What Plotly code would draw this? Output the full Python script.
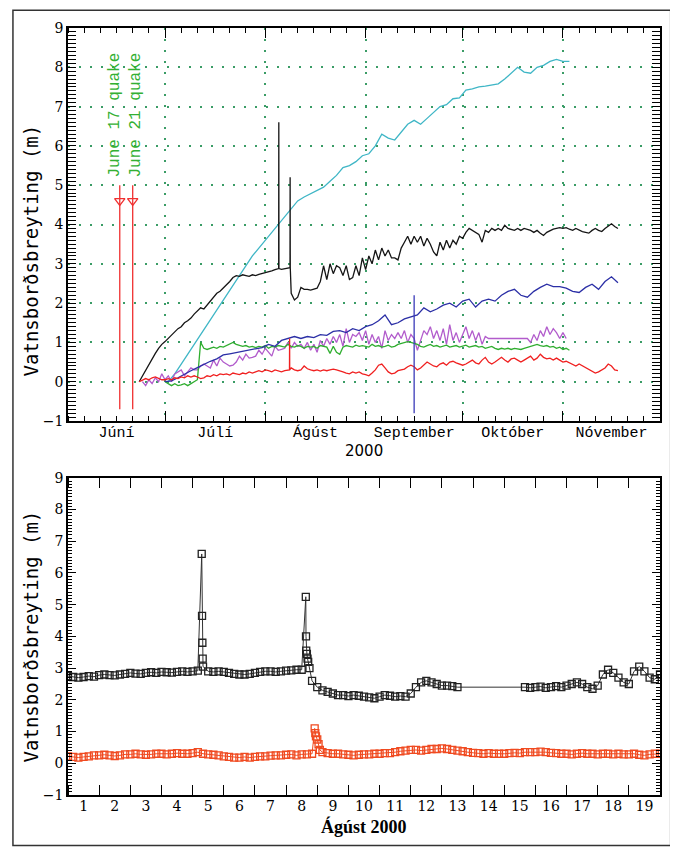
import pandas as pd
import plotly.graph_objects as go

# ---------------- top panel data (daily / 2-daily readings) ----------------
black_start = "2000-06-23"
black_vals = [
    0.0, 0.15, 0.3, 0.45, 0.6, 0.72, 0.85, 0.95,
    1.02, 1.1, 1.18, 1.28, 1.35, 1.4, 1.5, 1.55, 1.62, 1.72, 1.8, 1.88, 1.85, 1.95, 2.05, 2.15,
    2.25, 2.3, 2.38, 2.45, 2.55, 2.65, 2.7, 2.68, 2.72, 2.7, 2.68, 2.72, 2.7, 2.73, 2.75,
    2.78, 2.8, 2.82, 2.85, 2.88, 2.86, 2.88, 2.9, 2.25, 2.08, 2.15, 2.4, 2.35, 2.35, 2.33, 2.35,
    2.38, 2.55, 2.95, 2.6, 3.0, 2.75, 2.95, 2.9, 2.7, 2.95, 2.6, 2.65, 2.95, 2.7, 3.15,
    2.85, 3.2, 3.0, 3.35, 3.1, 3.4, 3.2, 3.35, 3.15, 3.15, 3.1, 3.4, 3.55, 3.7, 3.5, 3.7, 3.55,
    3.7, 3.45, 3.65, 3.5, 3.3, 3.2, 3.55, 3.35, 3.6, 3.4, 3.6, 3.5, 3.7,
    3.65, 3.8, 3.9, 3.85, 3.8, 3.75, 3.55, 3.85, 3.8, 3.9, 3.85, 3.9, 3.85, 3.98, 3.9, 3.88,
    3.85, 3.9, 3.85, 3.9, 3.88, 3.85, 3.8, 3.85, 3.78, 3.72, 3.8, 3.85, 3.88, 3.9, 3.92,
    3.9, 3.92, 3.88, 3.85, 3.9, 3.85, 3.82, 3.8, 3.78, 3.85, 3.9, 3.85, 3.82, 3.9, 3.95, 4.02, 3.95, 3.9,
]
black_spike_dates = ["2000-08-05 03:00", "2000-08-05 04:00", "2000-08-05 05:00",
                     "2000-08-08 15:00", "2000-08-08 16:00", "2000-08-08 17:00"]
black_spike_vals = [2.88, 6.6, 2.88, 2.9, 5.2, 2.9]

cyan_start = "2000-07-02"  # every 2 days
cyan_vals = [
    0.0, 0.2, 0.45, 0.7, 0.95, 1.2, 1.45, 1.7, 1.95, 2.2, 2.45, 2.7, 2.95, 3.2, 3.4,
    3.6, 3.8, 4.0, 4.2, 4.4, 4.6, 4.7, 4.78, 4.88, 4.95, 5.1, 5.25, 5.45, 5.5, 5.6, 5.75,
    5.8, 6.0, 6.3, 6.2, 6.15, 6.35, 6.55, 6.65, 6.55, 6.7, 6.85, 7.0, 7.05, 7.2, 7.22,
    7.42, 7.45, 7.5, 7.52, 7.55, 7.58, 7.7, 7.85, 8.0, 7.88, 7.85, 8.0, 8.05, 8.15, 8.2,
    8.15, 8.15,
]

blue_start = "2000-07-01"  # every 2 days
blue_vals = [
    0.0, 0.02, 0.1, 0.2, 0.28, 0.36, 0.45, 0.52, 0.58, 0.68, 0.71, 0.74, 0.77, 0.8, 0.84, 0.87,
    0.95, 0.9, 1.05, 1.1, 1.15, 1.1, 1.15, 1.12, 1.2, 1.18, 1.28, 1.3, 1.25, 1.35, 1.3,
    1.4, 1.45, 1.55, 1.7, 1.45, 1.5, 1.6, 1.65, 1.7, 1.88, 1.78, 1.85, 1.95, 2.0, 1.9,
    2.05, 2.1, 1.9, 2.05, 2.1, 2.05, 2.2, 2.3, 2.35, 2.2, 2.15, 2.3, 2.4, 2.48, 2.42, 2.42,
    2.38, 2.3, 2.27, 2.4, 2.48, 2.35, 2.55, 2.67, 2.52,
]

purple_start_a = "2000-06-24"
purple_vals_a = [
    0.0, -0.1, 0.05, -0.05, 0.1, 0.0, 0.2,
    0.05, 0.15, 0.0, 0.2, 0.25, 0.3, 0.15, 0.25, 0.35, 0.3, 0.3, 0.4, 0.45, 0.4, 0.35, 0.55,
    0.4, 0.6, 0.5, 0.45, 0.4, 0.42, 0.5, 0.65, 0.55, 0.7, 0.6, 0.62, 0.65, 0.8, 0.7,
    0.85, 0.75, 0.65, 0.9, 0.8, 0.82, 0.85, 1.0, 0.85, 1.0, 0.9, 0.95, 0.85, 1.0, 0.8, 0.95,
    0.75, 1.05, 0.9, 1.1, 0.95, 1.15, 1.0, 1.2, 0.9, 1.35, 1.0, 1.2, 1.15, 1.25, 1.05,
    1.3, 0.95, 1.2, 1.0, 1.15, 0.85, 1.3, 1.05, 1.2, 1.1, 1.25, 1.1, 1.3, 1.0, 1.2,
    1.1, 0.8, 1.05, 1.3, 1.2, 1.4, 1.1, 1.3, 1.05, 1.35, 0.95, 1.45, 1.05, 1.25, 1.0,
    1.2, 1.4, 1.1, 1.3, 1.05, 1.25, 0.95, 1.15, 1.1,
]
purple_start_b = "2000-10-21"
purple_vals_b = [1.1, 1.0, 1.2, 1.05, 1.3, 1.15, 1.4, 1.2, 1.35, 1.25, 1.1, 1.25, 1.1]

green_start = "2000-07-01"
green_vals = [
    0.0, -0.05, -0.1, -0.05, -0.1, -0.08, -0.05, -0.1, -0.05, 0.0, 0.05, 1.0, 0.85, 0.82, 0.85,
    0.88, 0.85, 0.9, 0.88, 0.92, 0.98, 1.0, 0.95, 0.93, 0.9, 0.92, 0.88, 0.9, 0.87, 0.9, 0.88,
    0.92, 0.85, 0.9, 0.88, 0.92, 0.9, 0.88, 0.95, 0.9, 0.88, 0.92, 0.9, 0.85, 0.9, 0.88,
    0.9, 0.85, 0.92, 0.9, 0.88, 0.72, 0.9, 0.75, 0.7, 0.88, 0.92, 0.9, 0.88, 0.93, 0.9, 0.92,
    0.9, 0.88, 0.95, 0.9, 0.92, 0.88, 0.9, 0.93, 0.88, 0.9, 0.95, 0.98, 1.0, 1.02, 1.0,
    0.98, 0.95, 0.9, 0.88, 0.92, 0.95, 0.9, 0.92, 0.88, 0.9, 0.93, 0.88, 0.9, 0.92, 0.88,
    0.9, 0.93, 0.88, 0.9, 0.92, 0.88, 0.9, 0.85, 0.88, 0.9, 0.85, 0.82, 0.85, 0.83, 0.85,
    0.82, 0.85, 0.83, 0.82, 0.85, 0.88, 0.9, 0.93, 0.95, 0.92, 0.9, 0.92, 0.88, 0.9, 0.85, 0.88,
    0.82, 0.85, 0.8,
]

red_start = "2000-06-23"
red_vals = [
    0.0, 0.05, 0.08, 0.05, 0.1, 0.12, 0.08, 0.05,
    0.05, 0.08, 0.05, 0.1, 0.08, 0.12, 0.1, 0.15, 0.12, 0.15, 0.12, 0.08, 0.1, 0.15, 0.13, 0.18,
    0.15, 0.2, 0.18, 0.2, 0.17, 0.22, 0.2, 0.18, 0.22, 0.2, 0.25, 0.22, 0.25, 0.28, 0.25,
    0.3, 0.28, 0.25, 0.3, 0.28, 0.25, 0.28, 0.3, 0.35, 0.3, 0.28, 0.3, 0.4, 0.33, 0.3, 0.28,
    0.3, 0.27, 0.3, 0.28, 0.3, 0.32, 0.3, 0.28, 0.25, 0.22, 0.2, 0.25, 0.22, 0.25, 0.2,
    0.18, 0.15, 0.22, 0.3, 0.42, 0.45, 0.35, 0.25, 0.2, 0.22, 0.28, 0.3, 0.32, 0.38, 0.42,
    0.38, 0.3, 0.35, 0.42, 0.5, 0.45, 0.4, 0.38, 0.45, 0.48, 0.42, 0.5, 0.52, 0.48, 0.45,
    0.42, 0.45, 0.5, 0.55, 0.48, 0.45, 0.55, 0.62, 0.5, 0.45, 0.5, 0.55, 0.62, 0.55, 0.5, 0.58,
    0.6, 0.55, 0.5, 0.55, 0.6, 0.65, 0.55, 0.6, 0.7, 0.62, 0.58, 0.6, 0.55, 0.6, 0.55,
    0.5, 0.52, 0.48, 0.45, 0.4, 0.45, 0.4, 0.35, 0.3, 0.25, 0.22, 0.25, 0.3, 0.35, 0.45, 0.4, 0.3, 0.28,
]
red_spike_dates = ["2000-08-08 11:00", "2000-08-08 12:00", "2000-08-08 13:00"]
red_spike_vals = [0.3, 1.1, 0.3]

quake_dates = ["2000-06-17", "2000-06-21"]
quake_labels = ["June 17 quake", "June 21 quake"]
quake_line_top, quake_line_bottom, quake_arrow_level = 5.0, -0.7, 4.6
blue_mark_date = "2000-09-16"
blue_mark_range = [2.2, -0.8]

month_names = ["Júní", "Júlí", "Ágúst", "September", "Október", "Nóvember"]
month_mid = ["2000-06-16", "2000-07-16 12:00", "2000-08-16 12:00",
             "2000-09-16", "2000-10-16 12:00", "2000-11-16"]
month_starts = ["2000-07-01", "2000-08-01", "2000-09-01", "2000-10-01", "2000-11-01"]
minor_days = [1, 6, 11, 16, 21, 26]
month_nums = [6, 7, 8, 9, 10, 11]

# ---------------- bottom panel data (4-hourly readings, August) ----------------
aug_black_a_start = "2000-08-01 00:00"
aug_black_a = [
    2.75, 2.72, 2.7, 2.72, 2.75, 2.73,
    2.78, 2.8, 2.78, 2.77, 2.8, 2.82,
    2.85, 2.83, 2.82, 2.85, 2.87, 2.85,
    2.88, 2.87, 2.86, 2.88, 2.9, 2.88,
    2.9, 2.92, 3.05, 2.9, 2.88, 2.9,
    2.88, 2.85, 2.82, 2.8, 2.8, 2.82,
    2.85, 2.88, 2.9, 2.9, 2.88, 2.9,
    2.92, 2.93, 2.95, 2.95, 3.45, 2.6,
    2.4, 2.3, 2.25, 2.2, 2.15, 2.15,
    2.12, 2.15, 2.13, 2.1, 2.08, 2.05,
    2.1, 2.15, 2.13, 2.1, 2.12, 2.1,
    2.2, 2.4, 2.55, 2.6, 2.55, 2.5,
    2.45, 2.45, 2.43, 2.4,
]
aug_black_b_start = "2000-08-15 16:00"
aug_black_b = [
    2.4, 2.38,
    2.4, 2.42, 2.38, 2.4, 2.43, 2.4,
    2.45, 2.5, 2.55, 2.5, 2.4, 2.35,
    2.45, 2.8, 2.95, 2.85, 2.7, 2.55,
    2.5, 2.9, 3.05, 2.9, 2.7, 2.65,
    2.8,
]
aug_black_spike_dates = ["2000-08-05 07:00", "2000-08-05 07:15", "2000-08-05 07:30", "2000-08-05 07:45",
                         "2000-08-08 15:10", "2000-08-08 15:20", "2000-08-08 15:30",
                         "2000-08-08 16:30", "2000-08-08 17:00", "2000-08-08 18:00"]
aug_black_spike_vals = [6.6, 4.65, 3.8, 3.3, 5.25, 4.0, 3.55, 3.3, 3.2, 3.0]

aug_red_start = "2000-08-01 00:00"
aug_red = [
    0.22, 0.2, 0.18, 0.2, 0.22, 0.25,
    0.25, 0.27, 0.25, 0.23, 0.25, 0.28,
    0.28, 0.3, 0.28, 0.27, 0.28, 0.3,
    0.3, 0.28, 0.3, 0.32, 0.3, 0.3,
    0.32, 0.35, 0.3, 0.28, 0.27, 0.25,
    0.22, 0.2, 0.18, 0.18, 0.2, 0.18,
    0.2, 0.22, 0.22, 0.24, 0.25, 0.25,
    0.27, 0.28, 0.25, 0.28, 0.28, 0.3,
    0.75, 0.35, 0.32, 0.3, 0.3, 0.28,
    0.27, 0.25, 0.27, 0.28, 0.28, 0.3,
    0.3, 0.32, 0.32, 0.35, 0.38, 0.4,
    0.42, 0.42, 0.4, 0.42, 0.45, 0.45,
    0.47, 0.45, 0.42, 0.4, 0.38, 0.35,
    0.33, 0.32, 0.3, 0.32, 0.3, 0.3,
    0.3, 0.32, 0.33, 0.32, 0.35, 0.35,
    0.35, 0.37, 0.35, 0.33, 0.32, 0.3,
    0.3, 0.28, 0.3, 0.32, 0.3, 0.3,
    0.28, 0.3, 0.3, 0.28, 0.3, 0.28,
    0.28, 0.3, 0.27, 0.25, 0.28, 0.3,
    0.3,
]
aug_red_spike_dates = ["2000-08-08 22:00", "2000-08-08 22:30", "2000-08-08 23:00",
                       "2000-08-09 01:00", "2000-08-09 02:00"]
aug_red_spike_vals = [1.1, 0.95, 0.85, 0.6, 0.42]
aug_day_labels = [str(d) for d in range(1, 20)]


# ---------------- helpers ----------------
def series(start, vals, freq="D", extra_dates=None, extra_vals=None):
    s = pd.Series(vals, index=pd.date_range(start, periods=len(vals), freq=freq))
    if extra_dates:
        s = pd.concat([s, pd.Series(extra_vals, index=pd.to_datetime(extra_dates))]).sort_index()
    return s


blk = series(black_start, black_vals, "D", black_spike_dates, black_spike_vals)
cyn = series(cyan_start, cyan_vals, "2D")
blu = series(blue_start, blue_vals, "2D")
pur = pd.concat([series(purple_start_a, purple_vals_a), series(purple_start_b, purple_vals_b)])
grn = series(green_start, green_vals)
red = series(red_start, red_vals, "D", red_spike_dates, red_spike_vals)

ab = pd.concat([series(aug_black_a_start, aug_black_a, "4h"),
                series(aug_black_b_start, aug_black_b, "4h"),
                pd.Series(aug_black_spike_vals, index=pd.to_datetime(aug_black_spike_dates))]).sort_index()
ar = series(aug_red_start, aug_red, "4h", aug_red_spike_dates, aug_red_spike_vals)

fig = go.Figure()

top_series = [(cyn, "#3fb6c6"), (blk, "#151515"), (pur, "#b25ccc"), (grn, "#2fae2f"),
              (blu, "#2b2fa6"), (red, "#f02020")]
for s, c in top_series:
    fig.add_trace(go.Scatter(x=s.index, y=s.values, mode="lines",
                             line=dict(color=c, width=1.3), xaxis="x", yaxis="y"))

# quake markers
for d in quake_dates:
    fig.add_trace(go.Scatter(x=[d, d], y=[quake_line_top, quake_line_bottom], mode="lines",
                             line=dict(color="#f03030", width=1.3), xaxis="x", yaxis="y"))
    fig.add_trace(go.Scatter(x=[d], y=[quake_arrow_level], mode="markers",
                             marker=dict(symbol="triangle-down-open", size=9, color="#f03030",
                                         line=dict(width=1.3)), xaxis="x", yaxis="y"))
fig.add_trace(go.Scatter(x=[blue_mark_date, blue_mark_date], y=blue_mark_range, mode="lines",
                         line=dict(color="#3a3ab8", width=1.3), xaxis="x", yaxis="y"))

# month-boundary axis helper trace
fig.add_trace(go.Scatter(x=month_starts, y=[None] * len(month_starts), xaxis="x3", yaxis="y",
                         mode="lines", hoverinfo="skip"))

# bottom panel
fig.add_trace(go.Scatter(x=ab.index, y=ab.values, mode="lines+markers",
                         line=dict(color="#333333", width=1),
                         marker=dict(symbol="square-open", size=7, color="#222222", line=dict(width=1.3)),
                         xaxis="x2", yaxis="y2"))
fig.add_trace(go.Scatter(x=ar.index, y=ar.values, mode="lines+markers",
                         line=dict(color="#f04a20", width=1),
                         marker=dict(symbol="square-open", size=7, color="#f04a20", line=dict(width=1.3)),
                         xaxis="x2", yaxis="y2"))

for d, txt, sh in zip(quake_dates, quake_labels, [-5, 3]):
    fig.add_annotation(x=d, y=5.15, xref="x", yref="y", text=txt, textangle=-90,
                       showarrow=False, xanchor="center", yanchor="bottom", xshift=sh,
                       font=dict(family="Liberation Mono", size=16, color="#33b033"))

# axis titles (placed as in the reference)
title_font = dict(family="DejaVu Sans Mono", size=19, color="black")
fig.add_annotation(x=-0.0625, y=0.710, xref="paper", yref="paper", text="Vatnsborðsbreyting (m)",
                   textangle=-90, showarrow=False, xanchor="center", yanchor="middle", font=title_font)
fig.add_annotation(x=-0.0625, y=0.2068, xref="paper", yref="paper", text="Vatnsborðsbreyting (m)",
                   textangle=-90, showarrow=False, xanchor="center", yanchor="middle", font=title_font)
fig.add_annotation(x=0.5, y=0.449, xref="paper", yref="paper", text="2000", showarrow=False,
                   xanchor="center", yanchor="middle",
                   font=dict(family="DejaVu Sans", size=15, color="black"))
fig.add_annotation(x=0.5, y=-0.0405, xref="paper", yref="paper", text="Ágúst 2000", showarrow=False,
                   xanchor="center", yanchor="middle",
                   font=dict(family="Liberation Serif", size=18, color="black", weight="bold"))

minor_ticks = [f"2000-{m:02d}-{d:02d}" for m in month_nums for d in minor_days]

grid = dict(gridcolor="#3a9c66", griddash="2px,9px", gridwidth=1.5)
frame = dict(showline=True, linecolor="black", linewidth=1.5)
tickfont_serif = dict(family="DejaVu Serif", size=14, color="black")

yaxis_common = dict(range=[-1, 9], tickmode="linear", tick0=0, dtick=1, ticks="inside", ticklen=8,
                    tickcolor="black", tickwidth=1.2, zeroline=False, mirror="allticks",
                    tickfont=tickfont_serif,
                    minor=dict(ticks="inside", ticklen=4, dtick=0.1, tick0=0, tickcolor="black",
                               tickwidth=1, showgrid=False),
                    **frame)

fig.update_layout(
    width=670, height=842,
    margin=dict(l=60, r=18, t=18, b=55),
    paper_bgcolor="white", plot_bgcolor="white", showlegend=False,
    xaxis=dict(domain=[0, 1], anchor="y", type="date", range=["2000-06-01", "2000-12-01"],
               tickmode="array", tickvals=month_mid, ticktext=month_names, ticks="",
               ticklabelstandoff=-4,
               tickfont=dict(family="Liberation Mono", size=15, color="black"),
               showgrid=False, mirror="allticks",
               minor=dict(ticks="inside", ticklen=5, tickmode="array", tickvals=minor_ticks,
                          tickcolor="black", tickwidth=1, showgrid=False),
               **frame),
    xaxis3=dict(overlaying="x", anchor="y", type="date", range=["2000-06-01", "2000-12-01"],
                tickmode="array", tickvals=month_starts, showticklabels=False, ticks="inside",
                ticklen=10, tickcolor="black", tickwidth=1.3, showgrid=True, mirror="allticks",
                **grid, **frame),
    yaxis=dict(domain=[0.4876, 1], anchor="x", showgrid=True, **grid, **yaxis_common),
    xaxis2=dict(domain=[0, 1], anchor="y2", type="date", range=["2000-08-01", "2000-08-20"],
                tickmode="array",
                tickvals=pd.date_range("2000-08-01 12:00", periods=19, freq="D"),
                ticktext=aug_day_labels, ticks="", showgrid=False, mirror="allticks",
                ticklabelstandoff=-3,
                tickfont=dict(family="DejaVu Serif", size=14, color="black"),
                minor=dict(ticks="inside", ticklen=10, dtick=86400000, tick0="2000-08-01",
                           tickcolor="black", tickwidth=1.2, showgrid=False),
                **frame),
    yaxis2=dict(domain=[0, 0.4135], anchor="x2", showgrid=False, **yaxis_common),
)

fig.add_shape(type="rect", xref="paper", yref="paper", x0=-0.093, x1=1.018, y0=-0.066, y1=1.023,
              line=dict(color="#333333", width=1.5), fillcolor="rgba(0,0,0,0)", layer="above")

fig.write_html("out.html")
